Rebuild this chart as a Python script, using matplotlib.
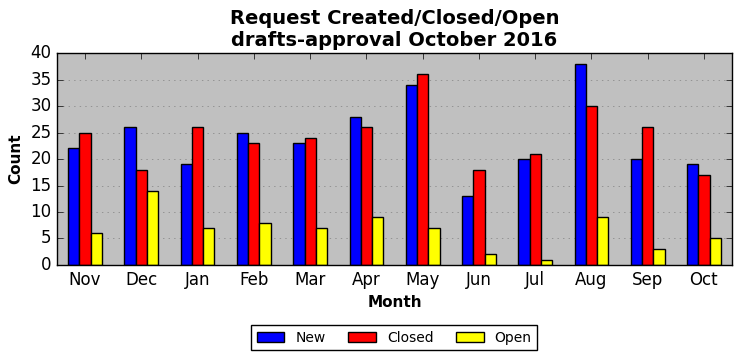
import matplotlib
matplotlib.use('Agg')
from matplotlib import pyplot as plt
import numpy as np

months = ['Nov', 'Dec', 'Jan', 'Feb', 'Mar', 'Apr', 'May', 'Jun', 'Jul', 'Aug', 'Sep', 'Oct']
new = [22, 26, 19, 25, 23, 28, 34, 13, 20, 38, 20, 19]
closed = [25, 18, 26, 23, 24, 26, 36, 18, 21, 30, 26, 17]
open_ = [6, 14, 7, 8, 7, 9, 7, 2, 1, 9, 3, 5]

plt.style.use('classic')
fig = plt.figure(figsize=(7.41, 3.61), dpi=100, facecolor='white')
ax = fig.add_axes([0.0769, 0.266, 0.911, 0.587])
ax.set_facecolor('#c0c0c0')

x = np.arange(len(months))
w = 0.2
ax.bar(x - w, new, w, color='blue', edgecolor='black', label='New', align='center')
ax.bar(x, closed, w, color='red', edgecolor='black', label='Closed', align='center')
ax.bar(x + w, open_, w, color='yellow', edgecolor='black', label='Open', align='center')

ax.set_xlim(-0.5, len(months) - 0.5)
ax.set_ylim(0, 40)
ax.set_yticks(range(0, 41, 5))
ax.set_xticks(x)
ax.set_xticklabels(months)
ax.yaxis.grid(True, linestyle=':', color='gray')
ax.set_axisbelow(True)

ax.set_title('Request Created/Closed/Open\ndrafts-approval October 2016', fontsize=14, fontweight='bold')
ax.set_xlabel('Month', fontsize=11, fontweight='bold')
ax.set_ylabel('Count', fontsize=11, fontweight='bold')

fig.legend(loc='center', bbox_to_anchor=(0.532, 0.064), ncol=3, fontsize=10, columnspacing=1.6)

fig.savefig('out.png', dpi=100, facecolor='white')
